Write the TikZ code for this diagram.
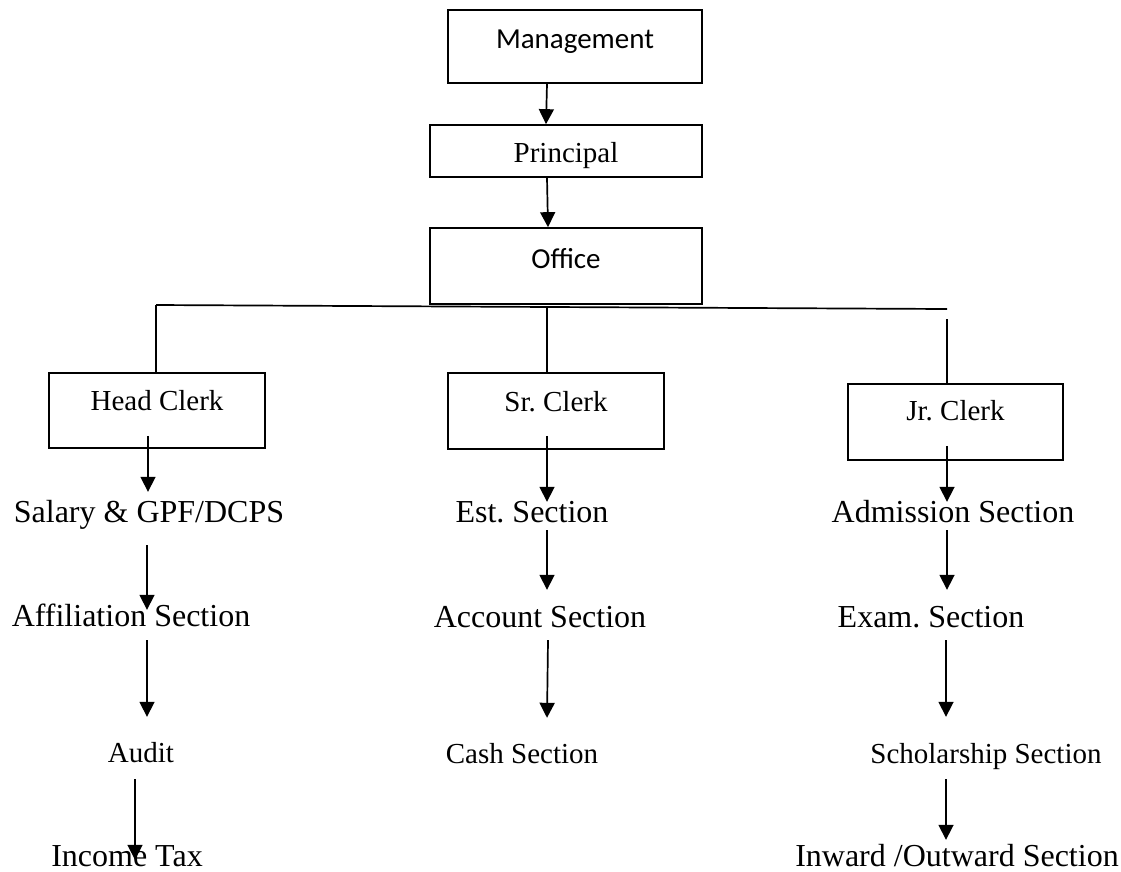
\documentclass[tikz,border=0pt]{standalone}
\usepackage{fontspec}
\setmainfont{Liberation Serif}
\newfontfamily\calibri{Carlito}
\usetikzlibrary{arrows.meta}
\frenchspacing

\tikzset{
  box/.style={draw, line width=1.7pt, inner sep=0pt, font=\fontsize{29}{33}\selectfont},
  lbl/.style={anchor=base, inner sep=0pt, text height=22pt, text depth=7pt, font=\fontsize{32}{36}\selectfont},
  lblsmall/.style={anchor=base, inner sep=0pt, text height=20pt, text depth=6pt, font=\fontsize{29}{33}\selectfont},
  arr/.style={-{Triangle[width=15pt,length=15pt]}, line width=1.7pt}
}

\begin{document}
\begin{tikzpicture}[x=1pt,y=-1pt]

  % Page frame
  \useasboundingbox (0,0) rectangle (1121,871);

  % Top of the chart
  \node[box, minimum width=254pt, minimum height=73pt, text height=11pt, text depth=8pt, font=\calibri\fontsize{29}{33}\selectfont] (mgmt) at (575,46.5) {Management};
  \node[box, minimum width=272pt, minimum height=52pt, text height=22pt, text depth=0pt] (prin) at (566,151) {Principal};
  \node[box, minimum width=272pt, minimum height=76pt, text height=10pt, text depth=6pt, font=\calibri\fontsize{29}{33}\selectfont] (office) at (566,266) {Office};

  \draw[arr] ([xshift=-28pt]mgmt.south) -- ([xshift=-20pt]prin.north);
  \draw[arr] ([xshift=-19pt]prin.south) -- ([xshift=-18pt]office.north);

  % Clerks
  \node[box, minimum width=216pt, minimum height=75pt, text height=8pt, text depth=9pt] (head) at (157,410.5) {Head Clerk};
  \node[box, minimum width=216pt, minimum height=76pt, text height=8pt, text depth=8pt] (sr) at (556,411) {Sr. Clerk};
  \node[box, minimum width=215pt, minimum height=76pt, text height=6pt, text depth=10pt] (jr) at (955.5,422) {Jr. Clerk};

  % Branch line under the office
  \coordinate (busL) at (156,305);
  \coordinate (busM) at (547,307);
  \coordinate (busR) at (947,309);
  \draw[line width=1.7pt] (busL) -- (busR);
  \draw[line width=1.7pt] (busL) -- ([xshift=-1pt]head.north);
  \draw[line width=1.7pt] (busM) -- ([xshift=-9pt]sr.north);
  \draw[line width=1.7pt] ([yshift=-10pt]busR) -- ([xshift=-8.5pt]jr.north);

  % Sections under the head clerk
  \node[lbl] (sal) at (149,522) {Salary \& GPF/DCPS};
  \node[lbl] (aff) at (131,626) {Affiliation Section};
  \node[lblsmall] (aud) at (141,762) {Audit};
  \node[lbl, text depth=4pt] (inc) at (127,866) {Income Tax};

  \draw[arr] ([xshift=-9pt,yshift=13pt]head.south) -- ([xshift=-1pt,yshift=8pt]sal.north);
  \draw[arr] ([xshift=-2pt,yshift=-16pt]sal.south) -- ([xshift=16pt,yshift=-6pt]aff.north);
  \draw[arr] ([xshift=16pt,yshift=-7pt]aff.south) -- ([xshift=6pt,yshift=25pt]aud.north);
  \draw[arr] ([xshift=-6pt,yshift=-11pt]aud.south) -- ([xshift=8pt,yshift=-16pt]inc.north);

  % Sections under the senior clerk
  \node[lbl] (est) at (532,522) {Est. Section};
  \node[lbl] (acc) at (540,627) {Account Section};
  \node[lblsmall] (cash) at (522,763) {Cash Section};

  \draw[arr] ([xshift=-9pt,yshift=14pt]sr.south) -- ([xshift=15pt,yshift=-2pt]est.north);
  \draw[arr] ([xshift=15pt,yshift=-1pt]est.south) -- ([xshift=7pt,yshift=15pt]acc.north);
  \draw[arr] ([xshift=8pt,yshift=-6pt]acc.south) -- ([xshift=25pt,yshift=25pt]cash.north);

  % Sections under the junior clerk
  \node[lbl] (adm) at (953,522) {Admission Section};
  \node[lbl] (exam) at (931,627) {Exam. Section};
  \node[lblsmall] (sch) at (986,763) {Scholarship Section};
  \node[lbl, text depth=4pt] (inw) at (957,866) {Inward /Outward Section};

  \draw[arr] ([xshift=-8.5pt,yshift=15pt]jr.south) -- ([xshift=-6pt,yshift=-2pt]adm.north);
  \draw[arr] ([xshift=-6pt,yshift=-1pt]adm.south) -- ([xshift=16pt,yshift=15pt]exam.north);
  \draw[arr] ([xshift=15pt,yshift=-6pt]exam.south) -- ([xshift=-40pt,yshift=26pt]sch.north);
  \draw[arr] ([xshift=-40pt,yshift=-10pt]sch.south) -- ([xshift=-11pt,yshift=4pt]inw.north);

\end{tikzpicture}
\end{document}
